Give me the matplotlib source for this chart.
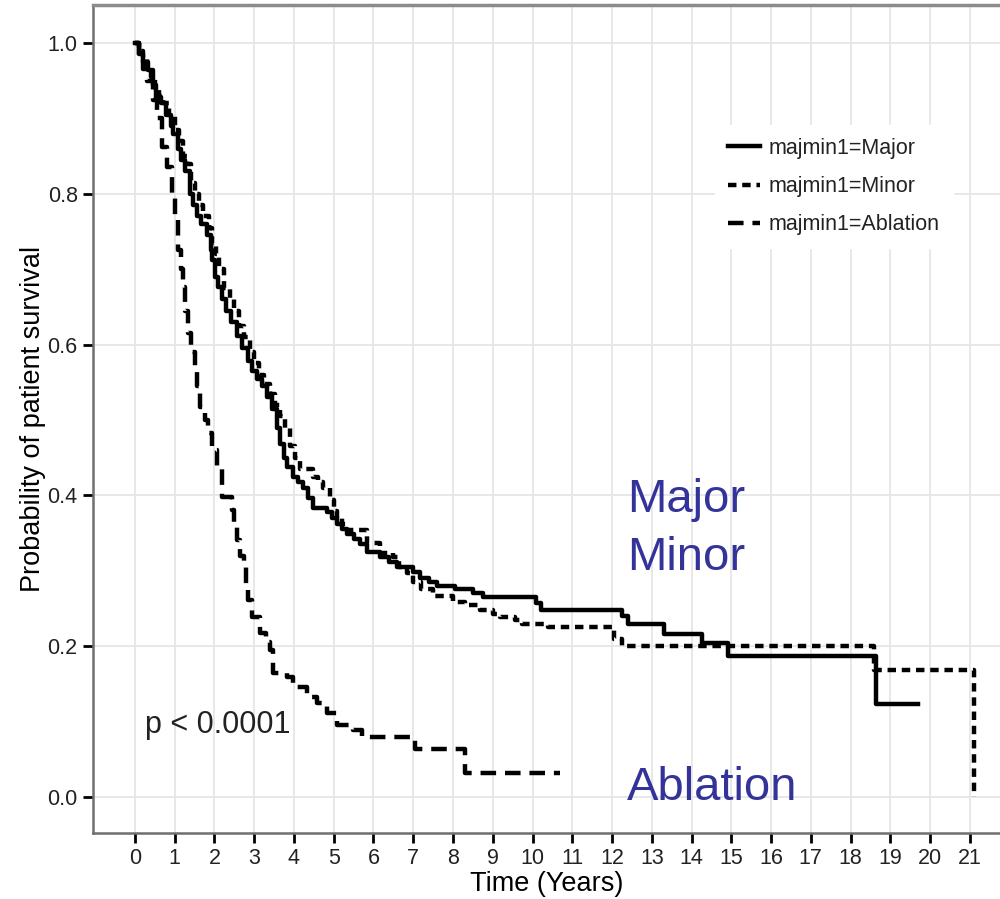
import matplotlib
matplotlib.use("Agg")
import matplotlib.pyplot as plt

plt.rcParams['font.family'] = ['Liberation Sans', 'DejaVu Sans']

# Kaplan-Meier step points (time in years, survival probability)
major_t = [0, 0.1, 0.2, 0.33, 0.45, 0.54, 0.65, 0.79, 0.9, 0.96, 1.08, 1.17, 1.25,
           1.38, 1.46, 1.55, 1.65, 1.8, 1.9, 1.94, 2.02, 2.09, 2.2, 2.3, 2.42, 2.56,
           2.7, 2.85, 2.95, 3.06, 3.2, 3.31, 3.45, 3.57, 3.65, 3.75, 3.82, 3.97, 4.1,
           4.23, 4.35, 4.48, 4.83, 4.95, 5.08, 5.2, 5.33, 5.5, 5.66, 5.83, 6.16, 6.4,
           6.59, 7.0, 7.17, 7.4, 7.6, 8.05, 8.5, 8.75, 10.1, 10.22, 12.25, 12.39,
           13.3, 14.27, 14.92, 18.65, 19.7]
major_s = [1.0, 0.985, 0.975, 0.964, 0.945, 0.929, 0.92, 0.905, 0.89, 0.88, 0.86, 0.845,
           0.83, 0.80, 0.785, 0.77, 0.76, 0.745, 0.725, 0.712, 0.69, 0.676, 0.66, 0.645,
           0.63, 0.612, 0.595, 0.578, 0.565, 0.555, 0.545, 0.53, 0.515, 0.49, 0.468,
           0.45, 0.438, 0.424, 0.418, 0.41, 0.396, 0.383, 0.378, 0.37, 0.362, 0.355,
           0.349, 0.342, 0.336, 0.325, 0.318, 0.312, 0.305, 0.298, 0.29, 0.285, 0.28,
           0.276, 0.27, 0.265, 0.257, 0.248, 0.24, 0.229, 0.216, 0.204, 0.187, 0.124,
           0.124]

minor_t = [0, 0.1, 0.2, 0.3, 0.4, 0.5, 0.6, 0.7, 0.85, 1.0, 1.1, 1.2, 1.3, 1.42, 1.5,
           1.6, 1.7, 1.85, 1.95, 2.05, 2.12, 2.25, 2.4, 2.5, 2.62, 2.75, 2.9, 3.0,
           3.12, 3.25, 3.4, 3.52, 3.65, 3.78, 3.9, 4.02, 4.15, 4.48, 4.6, 4.73, 4.9,
           5.0, 5.08, 5.2, 5.33, 5.83, 6.16, 6.49, 6.65, 6.84, 7.0, 7.2, 7.5, 8.0,
           8.3, 8.68, 9.0, 9.18, 9.55, 9.74, 10.4, 12.05, 12.25, 18.6, 21.1, 21.1]
minor_s = [1.0, 0.99, 0.98, 0.97, 0.955, 0.94, 0.93, 0.92, 0.905, 0.885, 0.87, 0.85,
           0.84, 0.815, 0.8, 0.785, 0.77, 0.755, 0.735, 0.72, 0.7, 0.675, 0.66, 0.645,
           0.625, 0.61, 0.59, 0.575, 0.56, 0.548, 0.535, 0.52, 0.505, 0.49, 0.466,
           0.45, 0.435, 0.424, 0.418, 0.41, 0.394, 0.38, 0.37, 0.362, 0.354, 0.337,
           0.324, 0.318, 0.305, 0.297, 0.285, 0.276, 0.266, 0.259, 0.255, 0.248,
           0.243, 0.239, 0.235, 0.23, 0.225, 0.21, 0.2, 0.168, 0.0, 0.0]

ablation_t = [0, 0.1, 0.2, 0.3, 0.45, 0.55, 0.68, 0.8, 0.93, 1.0, 1.08, 1.15, 1.21,
              1.27, 1.33, 1.42, 1.51, 1.57, 1.63, 1.75, 1.84, 1.94, 2.06, 2.19, 2.44,
              2.5, 2.57, 2.65, 2.73, 2.8, 2.85, 2.94, 3.14, 3.3, 3.4, 3.47, 3.82, 3.97,
              4.33, 4.58, 4.83, 5.08, 5.48, 5.71, 7.04, 8.3, 10.69]
ablation_s = [1.0, 0.98, 0.965, 0.95, 0.924, 0.9, 0.862, 0.835, 0.8, 0.77, 0.725, 0.7,
              0.676, 0.645, 0.615, 0.59, 0.57, 0.545, 0.517, 0.5, 0.483, 0.46, 0.438,
              0.398, 0.381, 0.36, 0.341, 0.32, 0.305, 0.28, 0.261, 0.239, 0.217, 0.205,
              0.195, 0.164, 0.159, 0.146, 0.133, 0.125, 0.111, 0.095, 0.089, 0.08,
              0.064, 0.032, 0.032]

labels = ['majmin1=Major', 'majmin1=Minor', 'majmin1=Ablation']
x_ticks = list(range(0, 22))
y_ticks = [0.0, 0.2, 0.4, 0.6, 0.8, 1.0]

fig = plt.figure(figsize=(10, 8.99), dpi=100)
ax = fig.add_axes([0.093, 0.0734, 0.907, 0.921])

lw = 3.2
ax.step(major_t, major_s, where='post', color='black', lw=lw, label=labels[0])
ax.step(minor_t, minor_s, where='post', color='black', lw=lw, label=labels[1],
        dashes=(1.9, 1.3))
ax.step(ablation_t, ablation_s, where='post', color='black', lw=lw, label=labels[2],
        dashes=(3.5, 2.0))

ax.set_xlim(-1.056, 21.76)
ax.set_ylim(-0.0477, 1.0504)
ax.set_xticks(x_ticks)
ax.set_yticks(y_ticks)
ax.set_yticklabels(['%.1f' % v for v in y_ticks])
ax.grid(True, color='#e6e6e6', lw=1.3)
ax.set_axisbelow(True)

for side in ['left', 'bottom', 'top']:
    ax.spines[side].set_color('#6f6f6f')
    ax.spines[side].set_linewidth(1.8)
ax.spines['top'].set_linewidth(2.5)
ax.spines['top'].set_color('#8c8c8c')
ax.spines['right'].set_visible(False)
ax.tick_params(axis='both', length=7, width=2, color='black', labelsize=15.5,
               labelcolor='#222222', pad=4)

ax.set_xlabel('Time (Years)', fontsize=19.5, labelpad=1)
ax.set_ylabel('Probability of patient survival', fontsize=19.5, labelpad=1)

leg = ax.legend(loc='upper left', bbox_to_anchor=(0.686, 0.855), borderaxespad=0,
                fontsize=15.5, frameon=True, fancybox=False, edgecolor='white',
                framealpha=1, handlelength=1.5, handletextpad=0.4, labelspacing=0.8,
                borderpad=0.6)
for txt in leg.get_texts():
    txt.set_color('#222222')

ax.text(0.25, 0.085, 'p < 0.0001', fontsize=22, color='#222222')
ax.text(12.37, 0.378, 'Major', fontsize=34, color='#333399')
ax.text(12.37, 0.301, 'Minor', fontsize=34, color='#333399')
ax.text(12.37, -0.004, 'Ablation', fontsize=34, color='#333399')

fig.savefig('out.png', dpi=100)
